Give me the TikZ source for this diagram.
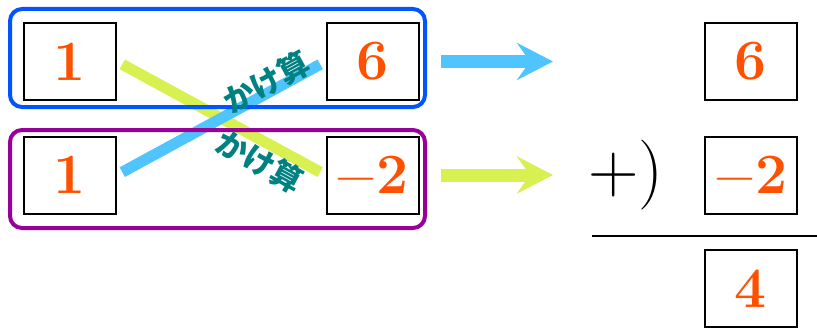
\documentclass[tikz,border=0pt]{standalone}
\usepackage{fontspec}
\newfontfamily\cjk{Noto Sans CJK JP}
\usetikzlibrary{arrows.meta}
\definecolor{numorange}{RGB}{255,80,0}
\definecolor{frameblue}{RGB}{0,85,255}
\definecolor{framepurple}{RGB}{153,0,153}
\definecolor{lineblue}{RGB}{80,196,255}
\definecolor{lineyellow}{RGB}{216,240,80}
\definecolor{labelteal}{RGB}{0,128,128}
\newcommand{\negtwo}{{\mdseries −}2}

\begin{document}
\begin{tikzpicture}[x=1pt, y=-1pt,
    numbox/.style={draw, line width=2pt, minimum width=92pt, minimum height=77pt, inner sep=0pt,
        text=numorange, font=\fontsize{57}{60}\selectfont\bfseries},
    kake/.style={inner sep=0pt, sloped, text=labelteal, font=\cjk\bfseries\fontsize{31}{33}\selectfont},
    cross/.style={line width=11pt, shorten >=6pt, shorten <=6pt},
    fat/.style={line width=13pt, -{Stealth[length=36pt, width=37pt, inset=13pt]}}]
    \useasboundingbox (0,0) rectangle (817,329);

    \node[numbox] (a1) at (70,61.5) {1};
    \node[numbox] (b1) at (372.5,61.5) {6};
    \node[numbox] (a2) at (70,175) {1};
    \node[numbox] (b2) at (372.5,175) {\negtwo};

    \node[numbox] (r1) at (751,61.5) {6};
    \node[numbox] (r2) at (751,175) {\negtwo};
    \node[numbox] (r3) at (751,288.5) {4};
    \node[inner sep=0pt, font=\fontsize{70}{72}\selectfont] (plus) at (626,175) {+)};

    \draw[cross, lineyellow] (a1.east) -- (b2.west);
    \draw[cross, lineblue] (a2.east) -- (b1.west);

    \draw[frameblue, line width=4pt, rounded corners=12pt] (10,9) rectangle (425,107);
    \draw[framepurple, line width=4pt, rounded corners=12pt] (10,130) rectangle (425,228);

    \path (a2.east) -- (b1.west) node[kake, pos=0.74, above=-5pt] {かけ算};
    \path (a1.east) -- (b2.west) node[kake, pos=0.73, below=4pt] {かけ算};

    \coordinate (s1) at (441,61.5);
    \coordinate (t1) at (553,61.5);
    \coordinate (s2) at (441,175);
    \coordinate (t2) at (553,175);
    \draw[fat, lineblue] (s1) -- (t1);
    \draw[fat, lineyellow] (s2) -- (t2);

    \coordinate (barl) at (592,236);
    \coordinate (barr) at (817,236);
    \draw[line width=2pt] (barl) -- (barr);
\end{tikzpicture}
\end{document}
